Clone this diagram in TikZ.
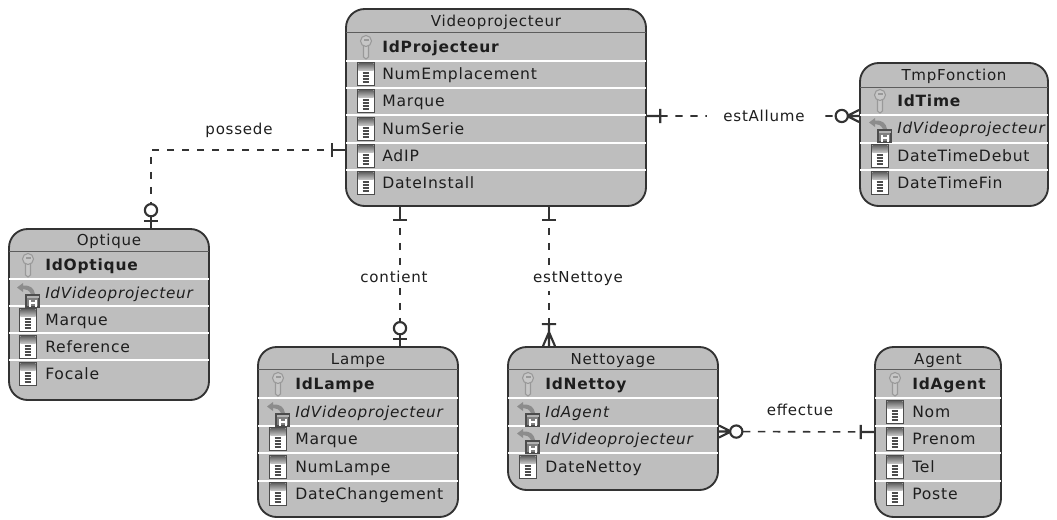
\documentclass[tikz,border=0pt]{standalone}
\usepackage{fontspec}
\setmainfont[LetterSpace=5]{DejaVu Sans}
\usepackage{tikz}
\usetikzlibrary{arrows}

\definecolor{boxfill}{HTML}{BEBEBE}
\definecolor{boxline}{HTML}{333333}
\definecolor{txtcol}{HTML}{1E1E1E}

% cardinalities, x runs from the line end to the box
\pgfarrowsdeclare{erone}{erone}{\pgfarrowsleftextend{0pt}\pgfarrowsrightextend{10pt}}
{
  \pgfsetdash{}{0pt}\pgfsetlinewidth{1.6pt}
  \pgfpathmoveto{\pgfpoint{0pt}{0pt}}\pgfpathlineto{\pgfpoint{10pt}{0pt}}
  \pgfpathmoveto{\pgfpoint{0pt}{-5.3pt}}\pgfpathlineto{\pgfpoint{0pt}{5.3pt}}
  \pgfusepathqstroke
}
\pgfarrowsdeclare{erzeroone}{erzeroone}{\pgfarrowsleftextend{0pt}\pgfarrowsrightextend{18.4pt}}
{
  \pgfsetdash{}{0pt}\pgfsetlinewidth{1.6pt}\pgfsetfillcolor{white}
  \pgfpathmoveto{\pgfpoint{0pt}{0pt}}\pgfpathlineto{\pgfpoint{18.4pt}{0pt}}
  \pgfpathmoveto{\pgfpoint{13.1pt}{-5.3pt}}\pgfpathlineto{\pgfpoint{13.1pt}{5.3pt}}
  \pgfusepathqstroke
  \pgfpathcircle{\pgfpoint{5pt}{0pt}}{4.6pt}
  \pgfusepathqfillstroke
}
\pgfarrowsdeclare{ermanyone}{ermanyone}{\pgfarrowsleftextend{0pt}\pgfarrowsrightextend{16.5pt}}
{
  \pgfsetdash{}{0pt}\pgfsetlinewidth{1.6pt}
  \pgfpathmoveto{\pgfpoint{0pt}{0pt}}\pgfpathlineto{\pgfpoint{16.5pt}{0pt}}
  \pgfpathmoveto{\pgfpoint{0pt}{-5.3pt}}\pgfpathlineto{\pgfpoint{0pt}{5.3pt}}
  \pgfpathmoveto{\pgfpoint{16.5pt}{-4.5pt}}\pgfpathlineto{\pgfpoint{6pt}{0pt}}\pgfpathlineto{\pgfpoint{16.5pt}{4.5pt}}
  \pgfusepathqstroke
}
\pgfarrowsdeclare{ermanyzero}{ermanyzero}{\pgfarrowsleftextend{0pt}\pgfarrowsrightextend{18pt}}
{
  \pgfsetdash{}{0pt}\pgfsetlinewidth{1.6pt}\pgfsetfillcolor{white}
  \pgfpathmoveto{\pgfpoint{0pt}{0pt}}\pgfpathlineto{\pgfpoint{18pt}{0pt}}
  \pgfpathmoveto{\pgfpoint{18pt}{-4.5pt}}\pgfpathlineto{\pgfpoint{9pt}{0pt}}\pgfpathlineto{\pgfpoint{18pt}{4.5pt}}
  \pgfusepathqstroke
  \pgfpathcircle{\pgfpoint{5pt}{0pt}}{4.6pt}
  \pgfusepathqfillstroke
}

\begin{document}
\begin{tikzpicture}
        [x=0.75pt, y=-0.75pt,
        font=\fontsize{11.3pt}{13pt}\selectfont, text=txtcol,
        estyle/.style={draw=boxline, fill=boxfill, line width=1.4pt, rounded corners=14pt, inner sep=0pt},
        tstyle/.style={anchor=base, inner sep=0pt},
        pkstyle/.style={anchor=base west, inner sep=0pt, yshift=-4pt, font=\fontsize{11.6pt}{13pt}\selectfont\bfseries},
        fkstyle/.style={anchor=base west, inner sep=0pt, yshift=-4pt, font=\fontsize{11.4pt}{13pt}\selectfont\itshape},
        attrstyle/.style={anchor=base west, inner sep=0pt, yshift=-4pt, font=\fontsize{11.7pt}{13pt}\selectfont},
        tline/.style={draw=boxline!70!boxfill, line width=0.7pt, shorten >=0.7pt, shorten <=0.7pt},
        sepline/.style={draw=white, line width=1.4pt, shorten >=0.7pt, shorten <=0.7pt},
        dstyle/.style={line width=1.2pt, draw=boxline, dash pattern=on 5.5pt off 5.75pt},
        vdstyle/.style={dstyle, dash phase=5.5pt},
        lstyle/.style={fill=white, inner xsep=5pt, inner ysep=4pt},
        pics/pkicon/.style={code={
          \draw[draw=black!40, fill=black!22, line width=0.8pt] (-2.5,-2) -- (-2.5,10) -- (0,12) -- (2.5,10) -- (2.5,-2);
          \draw[draw=black!40, fill=black!22, line width=0.8pt] (0,-6) circle (5.5);
          \draw[draw=black!40, fill=white, line width=0.5pt] (-2,-8) rectangle (2,-7);
        }},
        pics/attricon/.style={code={
          \draw[draw=black!70, fill=white, line width=1.1pt] (-8.5,-11.5) rectangle (8.5,11.5);
          \shade[top color=black!60, bottom color=black!25] (-7.7,-10.7) rectangle (7.7,-4);
          \foreach \s in {-1,2,5,8}
            \draw[draw=black!70, line width=1.2pt] (-3.3,\s) -- (3.3,\s);
        }},
        pics/fkicon/.style={code={
          \fill[black!45] (-11,-5.5) -- (-5,-10) -- (-5,-7.5) .. controls (2,-8) and (6,-5) .. (7,1)
            -- (3,1) .. controls (1,-3) and (-2,-4) .. (-5,-4) -- (-5,-1) -- cycle;
          \draw[draw=black!70, fill=black!50, line width=0.8pt] (-2,2) rectangle (11,14);
          \fill[black!30] (-1.5,2.5) rectangle (10.5,5);
          \draw[white, line width=1.5pt] (1.5,6.5) -- (1.5,13.5) (7.5,6.5) -- (7.5,13.5) (1.5,10) -- (7.5,10);
        }}]

        \useasboundingbox (0,0) rectangle (1057,519);

        \node[estyle, minimum width=225pt, minimum height=147.75pt] (video)   at (496,107.5) {};
        \node[estyle, minimum width=141pt, minimum height=107.25pt] (tmp)     at (954,134.5) {};
        \node[estyle, minimum width=150pt, minimum height=128.25pt] (optique) at (109,314.5) {};
        \node[estyle, minimum width=150pt, minimum height=127.5pt]  (lampe)   at (358,432) {};
        \node[estyle, minimum width=157.5pt, minimum height=107.25pt] (nett)  at (613,418.5) {};
        \node[estyle, minimum width=94.5pt, minimum height=127.5pt] (agent)   at (938,432) {};

        \node[tstyle] (videotitle)   at (496,26)  {Videoprojecteur};
        \node[tstyle] (tmptitle)     at (954,80)  {TmpFonction};
        \node[tstyle] (optiquetitle) at (109,245) {Optique};
        \node[tstyle] (lampetitle)   at (358,364) {Lampe};
        \node[tstyle] (netttitle)    at (613,364) {Nettoyage};
        \node[tstyle] (agenttitle)   at (938,364) {Agent};

        \draw[tline] (video.west |- 0,32) -- (video.east |- 0,32);
        \draw[tline] (tmp.west |- 0,87) -- (tmp.east |- 0,87);
        \draw[tline] (optique.west |- 0,251) -- (optique.east |- 0,251);
        \draw[tline] (lampe.west |- 0,369) -- (lampe.east |- 0,369);
        \draw[tline] (nett.west |- 0,369) -- (nett.east |- 0,369);
        \draw[tline] (agent.west |- 0,369) -- (agent.east |- 0,369);

        \foreach \y in {61,88,115,143,170}
          \draw[sepline] (video.west |- 0,\y) -- (video.east |- 0,\y);
        \foreach \y in {115,143,170}
          \draw[sepline] (tmp.west |- 0,\y) -- (tmp.east |- 0,\y);
        \foreach \y in {279,306,333,360}
          \draw[sepline] (optique.west |- 0,\y) -- (optique.east |- 0,\y);
        \foreach \y in {398,426,453,481}
          \draw[sepline] (lampe.west |- 0,\y) -- (lampe.east |- 0,\y);
        \foreach \y in {398,426,453}
          \draw[sepline] (nett.west |- 0,\y) -- (nett.east |- 0,\y);
        \foreach \y in {398,426,453,481}
          \draw[sepline] (agent.west |- 0,\y) -- (agent.east |- 0,\y);

        \foreach \kind/\y/\txt in {pk/47/IdProjecteur, attr/74/NumEmplacement, attr/101/Marque, attr/129/NumSerie, attr/156/AdIP, attr/183/DateInstall} {
          \pic at (366,\y) {\kind icon};
          \node[\kind style] (video\y) at (382,\y) {\txt};
        }
        \foreach \kind/\y/\txt in {pk/101/IdTime, fk/128/IdVideoprojecteur, attr/156/DateTimeDebut, attr/183/DateTimeFin} {
          \pic at (880,\y) {\kind icon};
          \node[\kind style] (tmp\y) at (897,\y) {\txt};
        }
        \foreach \kind/\y/\txt in {pk/265/IdOptique, fk/293/IdVideoprojecteur, attr/320/Marque, attr/347/Reference, attr/374/Focale} {
          \pic at (28,\y) {\kind icon};
          \node[\kind style] (optique\y) at (45,\y) {\txt};
        }
        \foreach \kind/\y/\txt in {pk/384/IdLampe, fk/412/IdVideoprojecteur, attr/439/Marque, attr/467/NumLampe, attr/494/DateChangement} {
          \pic at (278,\y) {\kind icon};
          \node[\kind style] (lampe\y) at (295,\y) {\txt};
        }
        \foreach \kind/\y/\txt in {pk/384/IdNettoy, fk/412/IdAgent, fk/439/IdVideoprojecteur, attr/467/DateNettoy} {
          \pic at (528,\y) {\kind icon};
          \node[\kind style] (nett\y) at (545,\y) {\txt};
        }
        \foreach \kind/\y/\txt in {pk/384/IdAgent, attr/412/Nom, attr/439/Prenom, attr/467/Tel, attr/494/Poste} {
          \pic at (895,\y) {\kind icon};
          \node[\kind style] (agent\y) at (912,\y) {\txt};
        }

        \draw[vdstyle, erone-erzeroone] ([yshift=-31.9pt]video.west) -| ([xshift=31.5pt]optique.north);
        \draw[vdstyle, erone-erzeroone] ([xshift=-72pt]video.south) -- ([xshift=31.5pt]lampe.north);
        \draw[vdstyle, erone-ermanyone] ([xshift=39.75pt]video.south) -- ([xshift=-48pt]nett.north);
        \draw[dstyle, ermanyzero-erone] ([yshift=-9.75pt]nett.east) -- (agent.west);
        \draw[dstyle, erone-ermanyzero] ([yshift=-6.4pt]video.east) -- ([yshift=13.9pt]tmp.west);

        \node (lblpossede) at (239,130) {possede};
        \node[lstyle] (lblcontient) at (394,277) {contient};
        \node[lstyle] (lblnettoye) at (578,279) {estNettoye};
        \node (lbleffectue) at (800,410) {effectue};
        \node[lstyle, inner xsep=12pt] (lblallume) at (764,116) {estAllume};
\end{tikzpicture}
\end{document}
